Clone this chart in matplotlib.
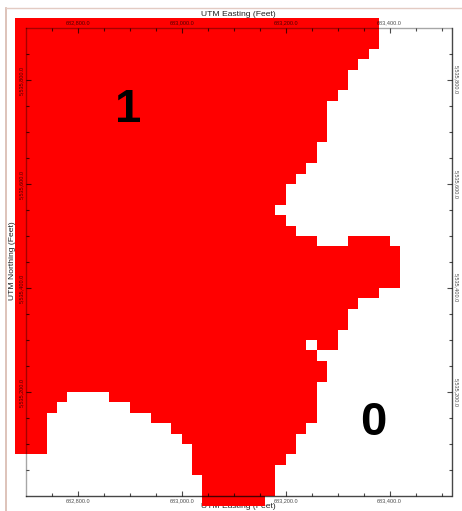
import numpy as np
import matplotlib
matplotlib.use("Agg")
import matplotlib.pyplot as plt
from matplotlib.colors import ListedColormap
from matplotlib.lines import Line2D

plt.rcParams['font.family'] = ['Liberation Sans', 'DejaVu Sans']

W, H = 462, 511
CELL_FT = 20
GRID_LEFT = 682680
GRID_TOP = 5535920
N_COLS = 37

# Indicator class per grid row, top to bottom: column spans whose class is 1
row_spans = [
    [(0,35)], [(0,35)], [(0,35)], [(0,34)], [(0,33)], [(0,32)], [(0,32)], [(0,31)],
    [(0,30)], [(0,30)], [(0,30)], [(0,30)], [(0,29)], [(0,29)], [(0,28)], [(0,27)],
    [(0,26)], [(0,26)], [(0,25)], [(0,26)], [(0,27)], [(0,29),(32,36)],
    [(0,37)], [(0,37)], [(0,37)], [(0,37)], [(0,35)], [(0,33)], [(0,32)], [(0,32)],
    [(0,31)], [(0,28),(29,31)], [(0,29)], [(0,30)], [(0,30)], [(0,29)],
    [(0,5),(9,29)], [(0,4),(11,29)], [(0,3),(13,29)], [(0,3),(15,28)],
    [(0,3),(16,27)], [(0,3),(17,27)], [(17,26)], [(17,25)], [(18,25)], [(18,25)], [(18,24)],
]

x_major = [682800, 683000, 683200, 683400]
x_major_labels = ["682,800.0", "683,000.0", "683,200.0", "683,400.0"]
x_minor = [682750, 682850, 682900, 682950, 683050, 683100, 683150, 683250, 683300, 683350, 683450, 683500]
y_major = [5535200, 5535400, 5535600, 5535800]
y_major_labels = ["5,535,200.0", "5,535,400.0", "5,535,600.0", "5,535,800.0"]
y_minor = [5535050, 5535100, 5535150, 5535250, 5535300, 5535350, 5535450, 5535500, 5535550,
           5535650, 5535700, 5535750, 5535850]

grid = np.zeros((len(row_spans), N_COLS))
for r, spans in enumerate(row_spans):
    for a, b in spans:
        grid[r, a:b] = 1
x_edges = GRID_LEFT + CELL_FT * np.arange(N_COLS + 1)
y_edges = GRID_TOP - CELL_FT * np.arange(len(row_spans) + 1)

fig = plt.figure(figsize=(W / 100, H / 100), dpi=100, facecolor='white')
L, R, T, B = 26, 451.5, 28, 496
ax = fig.add_axes([L / W, 1 - B / H, (R - L) / W, (B - T) / H])
ax.set_xlim(682700.5, 683519)
ax.set_ylim(5535000, 5535900)
ax.patch.set_facecolor('white')

ax.pcolormesh(x_edges, y_edges, np.ma.masked_equal(grid, 0),
              cmap=ListedColormap(['#ff0000']), vmin=0, vmax=1,
              clip_on=False, zorder=1, linewidth=0, antialiased=False)

ink = (0, 0, 0, 0.7)
ax.set_xticks(x_major, x_major_labels)
ax.set_xticks(x_minor, minor=True)
ax.set_yticks(y_major, y_major_labels)
ax.set_yticks(y_minor, minor=True)
ax.tick_params(axis='both', which='major', direction='in', length=3.6, width=0.8, color=ink,
               labelcolor=ink, labelsize=4, top=True, right=True, labeltop=True, labelright=True)
ax.tick_params(axis='both', which='minor', direction='in', length=2.4, width=0.8, color=ink,
               top=True, right=True)
ax.tick_params(axis='x', which='major', pad=1.6)
ax.tick_params(axis='y', which='major', pad=1.2)
for lab in ax.get_yticklabels():
    lab.set_rotation(90)
    lab.set_va('center')
for tick in ax.yaxis.get_major_ticks():
    tick.label2.set_rotation(270)
    tick.label2.set_va('center')

for side, a in (('top', 0.35), ('left', 0.35), ('bottom', 0.72), ('right', 0.72)):
    ax.spines[side].set_color((0, 0, 0, a))
    ax.spines[side].set_linewidth(1.0)
    ax.spines[side].set_zorder(3)

px = lambda x, y: (x / W, 1 - y / H)
for (x, y), s, rot in (((238, 14.5), "UTM Easting (Feet)", 0),
                       ((238, 506.8), "UTM Easting (Feet)", 0),
                       ((13, 261), "UTM Northing (Feet)", 90)):
    ax.text(*px(x, y), s, transform=fig.transFigure, fontsize=6.1, color='#222222',
            rotation=rot, ha='center', va='center', clip_on=False, zorder=0)

ax.text(*px(128.5, 110), "1", transform=fig.transFigure, fontsize=34, fontweight='bold',
        color='black', ha='center', va='center', zorder=5)
ax.text(*px(373.5, 423), "0", transform=fig.transFigure, fontsize=34, fontweight='bold',
        color='black', ha='center', va='center', zorder=5)

fig.add_artist(Line2D([5.5 / W, 5.5 / W], [0, 1 - 8 / H], color='#d8b9ae', lw=1.2))
fig.add_artist(Line2D([5.5 / W, 1], [1 - 8 / H, 1 - 8 / H], color='#e3cbc3', lw=1.0))

fig.savefig('out.png', dpi=100, facecolor='white')
